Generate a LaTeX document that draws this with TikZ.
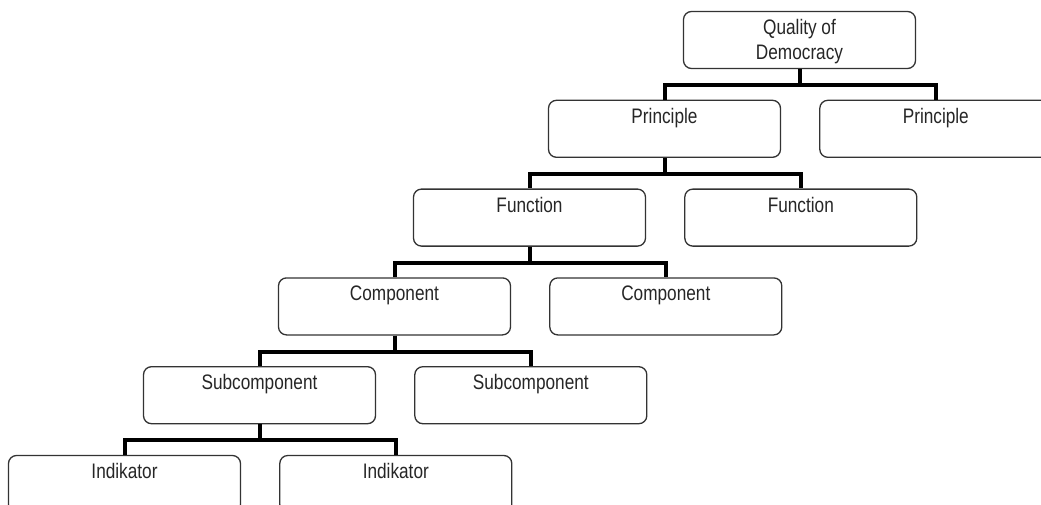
\documentclass[tikz,border=0pt]{standalone}
\usepackage{fontspec}
\setmainfont{Liberation Sans}[FakeStretch=0.82]
\usetikzlibrary{positioning}

\begin{document}
\begin{tikzpicture}[
		box/.style={draw=black!80, line width=1.3pt, rounded corners=8pt, fill=white,
			minimum width=232pt, minimum height=57pt, inner ysep=6pt,
			text height=17pt, text depth=28pt, align=center, text=black!85,
			font=\fontsize{21pt}{25pt}\selectfont},
		link/.style={line width=4pt, black},
		node distance=30.5pt]
		\useasboundingbox (0pt,0pt) rectangle (1041pt,-504pt);
		\clip (0pt,0pt) rectangle (1041pt,-504pt);
		
		% Define nodes (one level per row)
		\node (Q) [box, text height=42pt, text depth=3pt] at (799.5pt,-40pt) {Quality of\\Democracy};
		
		\node (P1) [box, below=of Q, xshift=-135pt] {Principle};
		\node (P2) [box, right=38pt of P1] {Principle};
		
		\node (F1) [box, below=of P1, xshift=-135pt] {Function};
		\node (F2) [box, right=38pt of F1] {Function};
		
		\node (C1) [box, below=of F1, xshift=-135pt] {Component};
		\node (C2) [box, right=38pt of C1] {Component};
		
		\node (S1) [box, below=of C1, xshift=-135pt] {Subcomponent};
		\node (S2) [box, right=38pt of S1] {Subcomponent};
		
		\node (I1) [box, below=of S1, xshift=-135pt] {Indikator};
		\node (I2) [box, right=38pt of I1] {Indikator};
		
		% Draw connections
		\draw[link] (Q.south) -- ++(0,-16pt) -| (P1.north);
		\draw[link] (Q.south) -- ++(0,-16pt) -| (P2.north);
		\draw[link] (P1.south) -- ++(0,-16pt) -| (F1.north);
		\draw[link] (P1.south) -- ++(0,-16pt) -| (F2.north);
		\draw[link] (F1.south) -- ++(0,-16pt) -| (C1.north);
		\draw[link] (F1.south) -- ++(0,-16pt) -| (C2.north);
		\draw[link] (C1.south) -- ++(0,-16pt) -| (S1.north);
		\draw[link] (C1.south) -- ++(0,-16pt) -| (S2.north);
		\draw[link] (S1.south) -- ++(0,-16pt) -| (I1.north);
		\draw[link] (S1.south) -- ++(0,-16pt) -| (I2.north);
	\end{tikzpicture}
\end{document}
